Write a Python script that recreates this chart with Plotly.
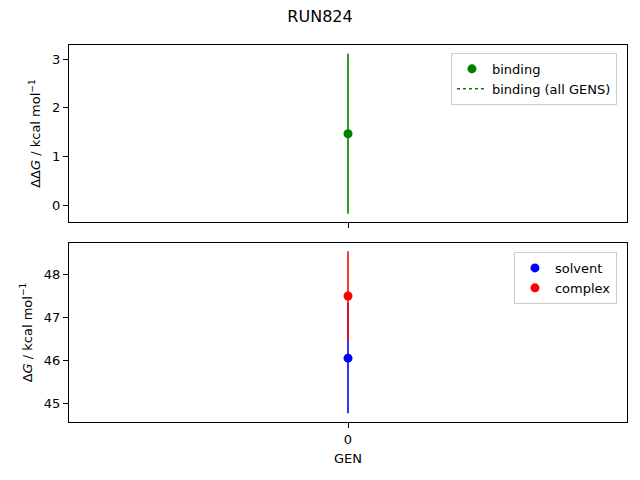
import plotly.graph_objects as go

# Data
gens = [0]
binding = [1.47]
binding_err = [1.64]
solvent = [46.05]
solvent_err = [1.28]
complex_ = [47.49]
complex_err = [1.04]

title = "RUN824"
font = "DejaVu Sans, Arial, sans-serif"

fig = go.Figure()

# Top panel: binding
fig.add_trace(go.Scatter(
    x=gens, y=binding, mode="markers", name="binding",
    marker=dict(color="green", size=9),
    error_y=dict(type="data", array=binding_err, visible=True, color="green", thickness=1.6, width=0),
    xaxis="x", yaxis="y", legend="legend",
))
fig.add_trace(go.Scatter(
    x=[None], y=[None], mode="lines", name="binding (all GENS)",
    line=dict(color="green", dash="dot", width=1.6),
    xaxis="x", yaxis="y", legend="legend",
))

# Bottom panel: solvent and complex
fig.add_trace(go.Scatter(
    x=gens, y=solvent, mode="markers", name="solvent",
    marker=dict(color="blue", size=9),
    error_y=dict(type="data", array=solvent_err, visible=True, color="blue", thickness=1.6, width=0),
    xaxis="x2", yaxis="y2", legend="legend2",
))
fig.add_trace(go.Scatter(
    x=gens, y=complex_, mode="markers", name="complex",
    marker=dict(color="red", size=9),
    error_y=dict(type="data", array=complex_err, visible=True, color="red", thickness=1.6, width=0),
    xaxis="x2", yaxis="y2", legend="legend2",
))

axis_common = dict(
    showline=True, linecolor="black", linewidth=1, mirror=True,
    ticks="outside", ticklen=5, tickcolor="black", showgrid=False, zeroline=False,
    tickfont=dict(size=13, color="black"), automargin=False,
)

fig.update_layout(
    width=640, height=480,
    paper_bgcolor="white", plot_bgcolor="white",
    font=dict(family=font, color="black", size=13),
    margin=dict(l=69, r=13, t=45, b=58),
    title=dict(text=title, x=0.5, xanchor="center", y=0.965, yanchor="middle",
               font=dict(size=16, color="black")),
    xaxis=dict(domain=[0, 1], range=[-1, 1], tickvals=[0], showticklabels=False,
               anchor="y", **axis_common),
    yaxis=dict(domain=[0.5305, 1], range=[-0.34, 3.29], tickvals=[0, 1, 2, 3],
               title=dict(text="ΔΔ<i>G</i> / kcal mol<sup>−1</sup>", font=dict(size=13), standoff=8),
               anchor="x", **axis_common),
    xaxis2=dict(domain=[0, 1], range=[-1, 1], tickvals=[0], ticktext=["0"],
                title=dict(text="GEN", font=dict(size=13), standoff=8),
                anchor="y2", **axis_common),
    yaxis2=dict(domain=[0, 0.4748], range=[44.57, 48.72], tickvals=[45, 46, 47, 48],
                title=dict(text="Δ<i>G</i> / kcal mol<sup>−1</sup>", font=dict(size=13), standoff=8),
                anchor="x2", **axis_common),
    legend=dict(x=0.982, y=0.979, xanchor="right", yanchor="top",
                bordercolor="#cccccc", borderwidth=1, bgcolor="rgba(255,255,255,0.8)",
                font=dict(size=13), tracegroupgap=0),
    legend2=dict(x=0.982, y=0.451, xanchor="right", yanchor="top",
                 bordercolor="#cccccc", borderwidth=1, bgcolor="rgba(255,255,255,0.8)",
                 font=dict(size=13), tracegroupgap=0),
)

fig.write_html(
    "out.html",
    config={"displayModeBar": False},
    post_script="document.body.style.margin='0';document.body.style.padding='0';",
)
